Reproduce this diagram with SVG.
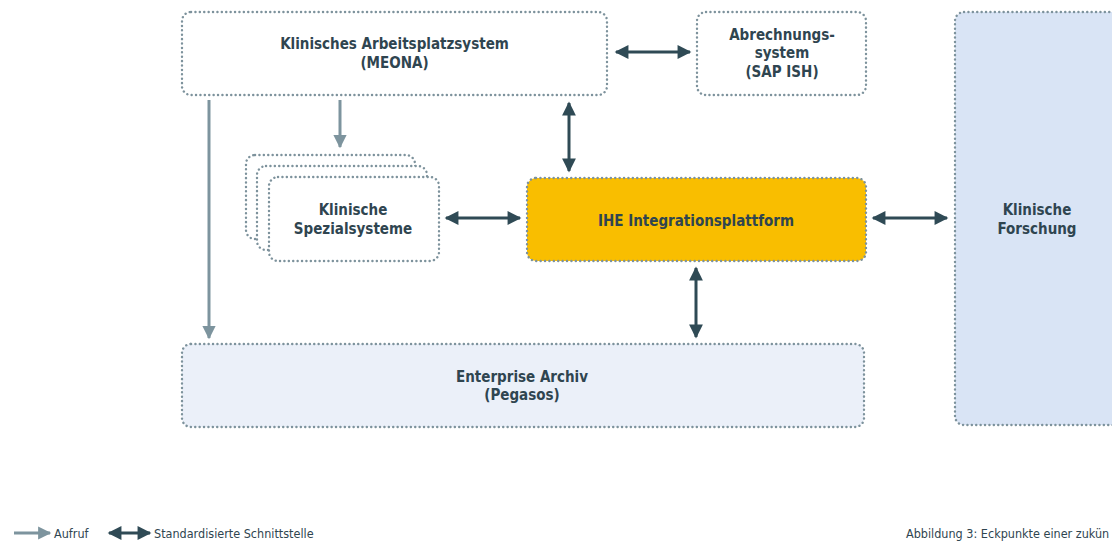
<svg xmlns="http://www.w3.org/2000/svg" width="1112" height="542" viewBox="0 0 1112 542">
<defs>
<style>
.box{stroke:#7D929C;stroke-width:2.4;stroke-dasharray:0.1 4.3;stroke-linecap:round;fill:#fff}
.t{font-family:"Liberation Sans Narrow","DejaVu Sans Condensed","Liberation Sans",sans-serif;font-weight:bold;font-size:15px;fill:#2F4550;text-anchor:middle}
.leg{font-family:"Liberation Sans Narrow","DejaVu Sans Condensed","Liberation Sans",sans-serif;font-size:12.5px;fill:#2F4550}
.std{stroke:#2F4A55;stroke-width:3;fill:none}
.call{stroke:#7D949E;stroke-width:3;fill:none}
</style>
<marker id="ad" viewBox="0 0 10 10" refX="9" refY="5" markerWidth="6" markerHeight="4.6" markerUnits="strokeWidth" orient="auto-start-reverse"><path d="M0,0 L10,5 L0,10 z" fill="#2F4A55"/></marker>
<marker id="ag" viewBox="0 0 10 10" refX="9" refY="5" markerWidth="5.5" markerHeight="4.4" markerUnits="strokeWidth" orient="auto"><path d="M0,0 L10,5 L0,10 z" fill="#7D949E"/></marker>
</defs>
<rect width="1112" height="542" fill="#fff"/>

<g id="meona">
<rect class="box" x="182" y="12" width="425" height="83" rx="9"/>
<text class="t" x="394.5" y="49">Klinisches Arbeitsplatzsystem</text>
<text class="t" x="394.5" y="68">(MEONA)</text>
</g>

<g id="abrechnung">
<rect class="box" x="697" y="12" width="169" height="83" rx="9"/>
<text class="t" x="782" y="40">Abrechnungs-</text>
<text class="t" x="782" y="58">system</text>
<text class="t" x="782" y="77">(SAP ISH)</text>
</g>

<g id="spezial">
<rect class="box" x="246" y="155" width="169" height="84" rx="9"/>
<rect class="box" x="257" y="166" width="170" height="84" rx="9"/>
<rect class="box" x="269" y="177" width="170" height="84" rx="9"/>
<text class="t" x="353" y="215">Klinische</text>
<text class="t" x="353" y="234">Spezialsysteme</text>
</g>

<g id="ihe">
<rect class="box" x="527" y="178" width="339" height="83" rx="9" style="fill:#F9BE00"/>
<text class="t" x="696" y="226">IHE Integrationsplattform</text>
</g>

<g id="forschung">
<rect class="box" x="955" y="12" width="180" height="413" rx="9" style="fill:#D9E4F5"/>
<text class="t" x="1037" y="215">Klinische</text>
<text class="t" x="1037" y="234">Forschung</text>
</g>

<g id="archiv">
<rect class="box" x="182" y="344" width="682" height="83" rx="9" style="fill:#EBF0F9"/>
<text class="t" x="522" y="382">Enterprise Archiv</text>
<text class="t" x="522" y="400">(Pegasos)</text>
</g>

<g id="connectors">
<line class="std" x1="616" y1="52" x2="690" y2="52" marker-start="url(#ad)" marker-end="url(#ad)"/>
<line class="std" x1="569" y1="103" x2="569" y2="171" marker-start="url(#ad)" marker-end="url(#ad)"/>
<line class="call" x1="340" y1="100" x2="340" y2="147" marker-end="url(#ag)"/>
<line class="call" x1="209" y1="100" x2="209" y2="338" marker-end="url(#ag)"/>
<line class="std" x1="446" y1="218" x2="520" y2="218" marker-start="url(#ad)" marker-end="url(#ad)"/>
<line class="std" x1="873" y1="218" x2="947" y2="218" marker-start="url(#ad)" marker-end="url(#ad)"/>
<line class="std" x1="696" y1="268" x2="696" y2="337" marker-start="url(#ad)" marker-end="url(#ad)"/>
</g>

<g id="legend">
<line class="call" x1="14" y1="533" x2="50" y2="533" marker-end="url(#ag)"/>
<text class="leg" x="54" y="538">Aufruf</text>
<line class="std" x1="109" y1="533" x2="150" y2="533" marker-start="url(#ad)" marker-end="url(#ad)"/>
<text class="leg" x="154" y="538">Standardisierte Schnittstelle</text>
<text class="leg" x="906" y="538">Abbildung 3: Eckpunkte einer zukün</text>
</g>
</svg>
